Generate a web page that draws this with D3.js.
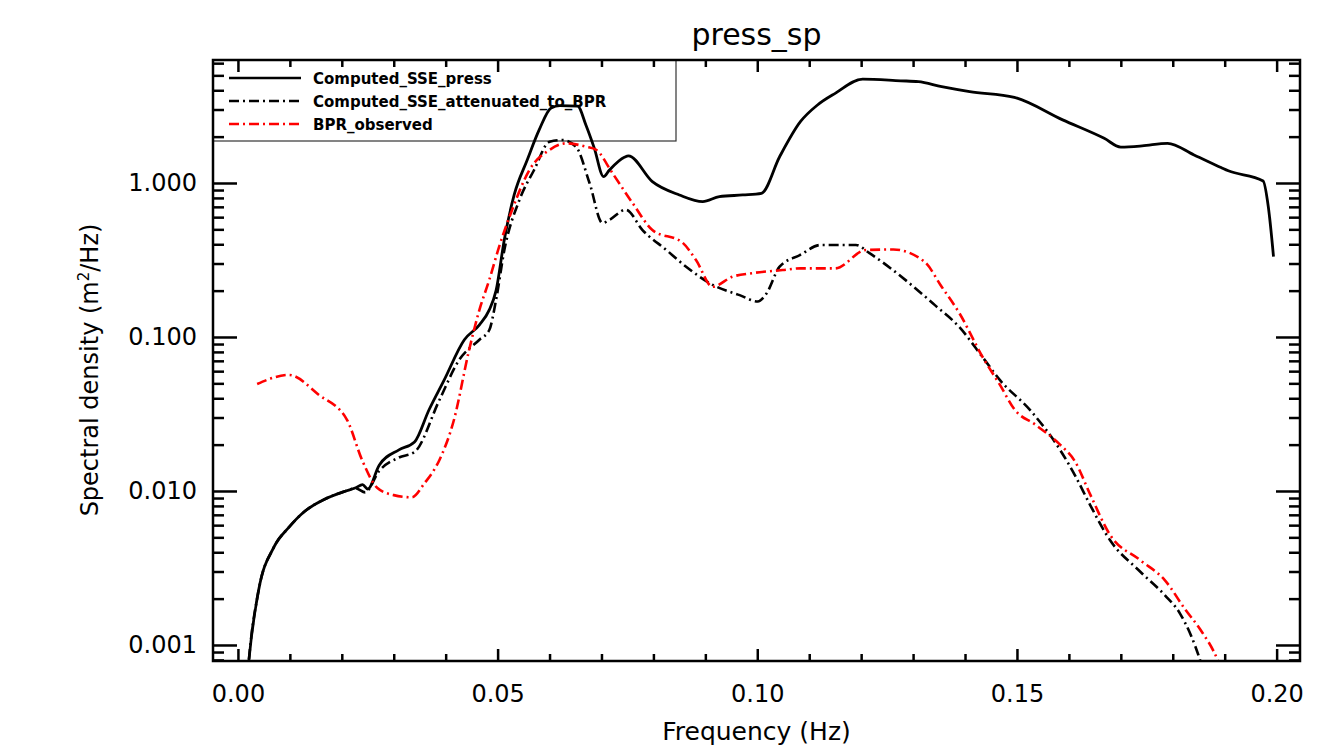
<!DOCTYPE html>
<html>
<head>
<meta charset="utf-8">
<script src="https://cdn.jsdelivr.net/npm/d3@7"></script>
<style>
  body { margin: 0; background: #fff; }
  svg { display: block; font-family: "DejaVu Sans", sans-serif; }
</style>
</head>
<body>
<div id="chart"></div>
<script>
// frequencies (Hz) and spectral density (m^2/Hz)
var freqSolid = [0.0018, 0.0021, 0.0040, 0.0069, 0.0098, 0.0127, 0.0166, 0.0204, 0.0227, 0.0240, 0.0250,
  0.0272, 0.0310, 0.0340, 0.0368, 0.0397, 0.0436, 0.0465, 0.0484, 0.0497, 0.0513, 0.0532, 0.0557, 0.0580,
  0.0603, 0.0620, 0.0654, 0.0670, 0.0686, 0.0704, 0.0715, 0.0744, 0.0752, 0.0798, 0.0850, 0.0895, 0.0927,
  0.0972, 0.1008, 0.1043, 0.1083, 0.1116, 0.1150, 0.1203, 0.1276, 0.1310, 0.1355, 0.1409, 0.1495,
  0.1588, 0.1668, 0.1700, 0.1741, 0.1790, 0.1841, 0.1893, 0.1907, 0.1974, 0.1984, 0.1994];
var valSolid = [0.0006, 0.00079, 0.00228, 0.00430, 0.0058, 0.0073, 0.0088, 0.0099, 0.0105, 0.0110, 0.0103,
  0.0147, 0.0185, 0.0208, 0.0337, 0.0525, 0.096, 0.120, 0.150, 0.200, 0.43, 0.84, 1.41, 2.21,
  3.07, 3.18, 3.16, 2.38, 1.69, 1.10, 1.21, 1.47, 1.50, 1.02, 0.836, 0.757, 0.815,
  0.836, 0.857, 1.48, 2.50, 3.21, 3.82, 4.73, 4.61, 4.55, 4.22, 3.92, 3.60,
  2.57, 1.95, 1.71, 1.74, 1.81, 1.52, 1.26, 1.20, 1.03, 0.70, 0.332];

var freqAtten = [0.0018, 0.0021, 0.0040, 0.0069, 0.0098, 0.0127, 0.0166, 0.0204, 0.0227, 0.0245, 0.0272,
  0.0310, 0.0340, 0.0388, 0.0426, 0.0465, 0.0484, 0.0497, 0.0513, 0.0542, 0.0570, 0.0600, 0.0625, 0.0651,
  0.0677, 0.0702, 0.0715, 0.0747, 0.0779, 0.0825, 0.0863, 0.0914, 0.0966, 0.1001, 0.1017, 0.1043, 0.1082,
  0.1122, 0.1190, 0.1216, 0.1289, 0.1342, 0.1388, 0.1435, 0.1467, 0.1525, 0.1583, 0.1612, 0.1641, 0.1679,
  0.1737, 0.1785, 0.1814, 0.1853, 0.1870];
var valAtten = [0.0006, 0.00079, 0.00228, 0.00430, 0.0058, 0.0073, 0.0088, 0.0099, 0.0104, 0.0098, 0.0135,
  0.0165, 0.0179, 0.039, 0.071, 0.096, 0.111, 0.174, 0.367, 0.776, 1.21, 1.85, 1.90, 1.72,
  1.0, 0.55, 0.575, 0.67, 0.495, 0.367, 0.286, 0.218, 0.187, 0.170, 0.190, 0.286, 0.340,
  0.396, 0.396, 0.350, 0.229, 0.161, 0.117, 0.073, 0.0526, 0.0336, 0.0185, 0.0126, 0.0081, 0.0048,
  0.0030, 0.0021, 0.0016, 0.00079, 0.0005];

var freqObs = [0.0037, 0.0098, 0.0156, 0.0210, 0.0239, 0.0268, 0.0300, 0.0335, 0.0359, 0.0388, 0.0416,
  0.0445, 0.0465, 0.0484, 0.0503, 0.0528, 0.0561, 0.0600, 0.0632, 0.0670, 0.0690, 0.0721, 0.0760, 0.0798,
  0.0856, 0.0882, 0.0914, 0.0952, 0.0991, 0.1049, 0.1083, 0.1150, 0.1209, 0.1262, 0.1322, 0.1355, 0.1389,
  0.1435, 0.1467, 0.1496, 0.1535, 0.1583, 0.1612, 0.1641, 0.1679, 0.1737, 0.1785, 0.1824, 0.1853, 0.1887,
  0.1900];
var valObs = [0.0495, 0.0567, 0.042, 0.029, 0.0159, 0.0105, 0.0094, 0.0091, 0.0112, 0.0159, 0.029,
  0.082, 0.150, 0.235, 0.386, 0.67, 1.21, 1.64, 1.81, 1.72, 1.64, 1.16, 0.74, 0.495,
  0.41, 0.316, 0.212, 0.246, 0.260, 0.272, 0.279, 0.279, 0.367, 0.370, 0.308, 0.212, 0.143,
  0.073, 0.049, 0.0336, 0.027, 0.020, 0.0155, 0.0095, 0.0052, 0.00356, 0.00263, 0.0017, 0.00126, 0.00079,
  0.0006];

var xMajorTicks = [0, 0.05, 0.10, 0.15, 0.20];
var xTickLabels = ['0.00', '0.05', '0.10', '0.15', '0.20'];
var yMajorTicks = [0.001, 0.01, 0.1, 1];
var yTickLabels = ['0.001', '0.010', '0.100', '1.000'];

var seriesNames = ['Computed_SSE_press', 'Computed_SSE_attenuated_to_BPR', 'BPR_observed'];

var width = 1342, height = 754;
var margin = {top: 60, right: 42, bottom: 93, left: 213};
var plotW = width - margin.left - margin.right;
var plotH = height - margin.top - margin.bottom;

var x = d3.scaleLinear().domain([-0.0048, 0.2045]).range([0, plotW]);
var y = d3.scaleLog().domain([0.000787, 6.29]).range([plotH, 0]);

var svg = d3.select('#chart').append('svg')
  .attr('width', width)
  .attr('height', height);

svg.append('rect').attr('width', width).attr('height', height).attr('fill', '#fff');

var g = svg.append('g').attr('transform', 'translate(' + margin.left + ',' + margin.top + ')');

g.append('clipPath').attr('id', 'clip')
  .append('rect').attr('width', plotW).attr('height', plotH);

// minor ticks every 0.01 and log minors 2..9
var xMinor = d3.range(0, 21).map(function(i) { return i / 100; })
  .filter(function(v) { return Math.round(v * 100) % 5 !== 0; });
var yMinor = [];
[0.0001, 0.001, 0.01, 0.1, 1].forEach(function(d) {
  for (var k = 2; k <= 9; k++) yMinor.push(d * k);
});
yMinor = yMinor.filter(function(v) { return v >= y.domain()[0] && v <= y.domain()[1]; });

function styleAxis(sel) {
  sel.select('.domain').remove();
  sel.selectAll('line').attr('stroke', '#000').attr('stroke-width', 2.5);
}

// legend box sits under the curves, no fill
var legend = g.append('g');
legend.append('rect')
  .attr('x', 0).attr('y', 0)
  .attr('width', 463).attr('height', 81)
  .attr('fill', 'none')
  .attr('stroke', '#333')
  .attr('stroke-width', 1.2);

g.append('g').attr('transform', 'translate(0,' + plotH + ')')
  .call(d3.axisBottom(x).tickValues(xMajorTicks).tickSize(-12).tickPadding(24)
    .tickFormat(function(d, i) { return xTickLabels[i]; }))
  .call(styleAxis)
  .selectAll('text').attr('font-size', 24).attr('fill', '#000').attr('font-family', '"DejaVu Sans", sans-serif');
g.append('g').attr('transform', 'translate(0,' + plotH + ')')
  .call(d3.axisBottom(x).tickValues(xMinor).tickSize(-7).tickFormat(''))
  .call(styleAxis);
g.append('g')
  .call(d3.axisTop(x).tickValues(xMajorTicks).tickSize(-12).tickFormat(''))
  .call(styleAxis);
g.append('g')
  .call(d3.axisTop(x).tickValues(xMinor).tickSize(-7).tickFormat(''))
  .call(styleAxis);

g.append('g')
  .call(d3.axisLeft(y).tickValues(yMajorTicks).tickSize(-24).tickPadding(16)
    .tickFormat(function(d, i) { return yTickLabels[i]; }))
  .call(styleAxis)
  .selectAll('text').attr('font-size', 24).attr('fill', '#000').attr('font-family', '"DejaVu Sans", sans-serif');
g.append('g')
  .call(d3.axisLeft(y).tickValues(yMinor).tickSize(-11).tickFormat(''))
  .call(styleAxis);
g.append('g').attr('transform', 'translate(' + plotW + ',0)')
  .call(d3.axisRight(y).tickValues(yMajorTicks).tickSize(-24).tickFormat(''))
  .call(styleAxis);
g.append('g').attr('transform', 'translate(' + plotW + ',0)')
  .call(d3.axisRight(y).tickValues(yMinor).tickSize(-11).tickFormat(''))
  .call(styleAxis);

// curves
var line = d3.line()
  .x(function(d) { return x(d[0]); })
  .y(function(d) { return y(d[1]); })
  .curve(d3.curveMonotoneX);

var series = [
  {f: freqSolid, v: valSolid, color: '#000', dash: null, w: 2.8},
  {f: freqAtten, v: valAtten, color: '#000', dash: '10,4,2,4', w: 2.6},
  {f: freqObs, v: valObs, color: '#f00', dash: '10,4,2,4', w: 2.6}
];

var curves = g.append('g').attr('clip-path', 'url(#clip)');
series.forEach(function(s) {
  var pts = d3.zip(s.f, s.v);
  curves.append('path')
    .datum(pts)
    .attr('d', line)
    .attr('fill', 'none')
    .attr('stroke', s.color)
    .attr('stroke-width', s.w)
    .attr('stroke-dasharray', s.dash);
});

series.forEach(function(s, i) {
  var ly = 18 + i * 23;
  legend.append('line')
    .attr('x1', 16).attr('x2', 88)
    .attr('y1', ly).attr('y2', ly)
    .attr('stroke', s.color)
    .attr('stroke-width', 2.4)
    .attr('stroke-dasharray', s.dash);
  legend.append('text')
    .attr('x', 100).attr('y', ly + 6)
    .attr('font-size', 15)
    .attr('font-weight', 'bold')
    .text(seriesNames[i]);
});

// frame
g.append('rect')
  .attr('width', plotW).attr('height', plotH)
  .attr('fill', 'none')
  .attr('stroke', '#000')
  .attr('stroke-width', 2.5);

// titles
svg.append('text')
  .attr('x', margin.left + plotW / 2).attr('y', 45)
  .attr('text-anchor', 'middle')
  .attr('font-size', 30)
  .text('press_sp');

svg.append('text')
  .attr('x', margin.left + plotW / 2).attr('y', 740)
  .attr('text-anchor', 'middle')
  .attr('font-size', 25)
  .text('Frequency (Hz)');

var yTitle = svg.append('text')
  .attr('transform', 'translate(98,370) rotate(-90)')
  .attr('text-anchor', 'middle')
  .attr('font-size', 24);
yTitle.append('tspan').text('Spectral density (m');
yTitle.append('tspan').attr('baseline-shift', 'super').attr('font-size', 15).text('2');
yTitle.append('tspan').text('/Hz)');
</script>
</body>
</html>
